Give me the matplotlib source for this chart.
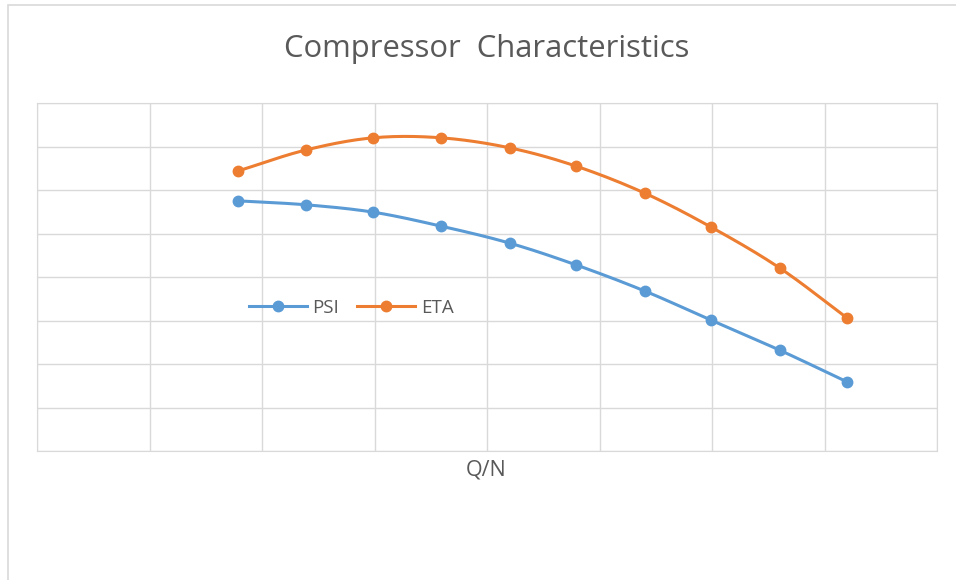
import numpy as np
import matplotlib.pyplot as plt
from matplotlib.patches import Rectangle

# Data (x in grid units, y in grid units)
q_n = [1.79, 2.39, 2.99, 3.59, 4.20, 4.79, 5.40, 5.99, 6.60, 7.20]
psi = [5.75, 5.66, 5.49, 5.17, 4.78, 4.28, 3.68, 3.01, 2.32, 1.59]
eta = [6.44, 6.92, 7.20, 7.20, 6.97, 6.55, 5.93, 5.15, 4.21, 3.06]

blue = "#5B9BD5"
orange = "#ED7D31"
text_gray = "#595959"


def smooth(x, y, n=20):
    # Catmull-Rom style smoothing for drawing the line only (like Excel's smoothed line)
    x = np.asarray(x, float)
    y = np.asarray(y, float)
    px = np.concatenate([[2 * x[0] - x[1]], x, [2 * x[-1] - x[-2]]])
    py = np.concatenate([[2 * y[0] - y[1]], y, [2 * y[-1] - y[-2]]])
    xs, ys = [], []
    t = np.linspace(0, 1, n, endpoint=False)
    for i in range(1, len(px) - 2):
        for p, out in ((px, xs), (py, ys)):
            p0, p1, p2, p3 = p[i - 1], p[i], p[i + 1], p[i + 2]
            out.extend(0.5 * ((2 * p1) + (-p0 + p2) * t
                              + (2 * p0 - 5 * p1 + 4 * p2 - p3) * t ** 2
                              + (-p0 + 3 * p1 - 3 * p2 + p3) * t ** 3))
    xs.append(x[-1])
    ys.append(y[-1])
    return xs, ys


fig = plt.figure(figsize=(9.56, 5.80), dpi=100)
fig.patches.append(Rectangle((8 / 956, -0.1), 1.2, 1 - 5 / 580 + 0.1,
                             transform=fig.transFigure, fill=False,
                             edgecolor="#D9D9D9", linewidth=1.2))

ax = fig.add_axes([37 / 956, 1 - 451 / 580, 900 / 956, 348 / 580])

for vals, col, name in ((psi, blue, "PSI"), (eta, orange, "ETA")):
    sx, sy = smooth(q_n, vals)
    ax.plot(sx, sy, color=col, linewidth=2.2, zorder=3)
    ax.plot(q_n, vals, 'o', color=col, markersize=7.5, zorder=4)
    ax.plot([], [], '-o', color=col, linewidth=2.2, markersize=7.5, label=name)

ax.set_xlim(0, 8)
ax.set_ylim(0, 8)
ax.set_xticks(range(9))
ax.set_yticks(range(9))
ax.grid(True, color="#D9D9D9", linewidth=1)
ax.tick_params(length=0, labelbottom=False, labelleft=False)
for s in ax.spines.values():
    s.set_color("#D9D9D9")

fig.text(487 / 956, 1 - 49 / 580, "Compressor  Characteristics", fontsize=22.3,
         color=text_gray, family="Open Sans", ha="center", va="center")
fig.text(486 / 956, 1 - 470 / 580, "Q/N", fontsize=15.5, color=text_gray,
         family="Open Sans", ha="center", va="center")

leg = ax.legend(loc="center", bbox_to_anchor=((351 - 37) / 900, (451 - 308) / 348),
                ncol=2, frameon=False, handlelength=3.1,
                columnspacing=0.95, handletextpad=0.3,
                prop={"family": "Open Sans", "size": 13.5})
for t in leg.get_texts():
    t.set_color(text_gray)

fig.savefig("out.png", dpi=100)
